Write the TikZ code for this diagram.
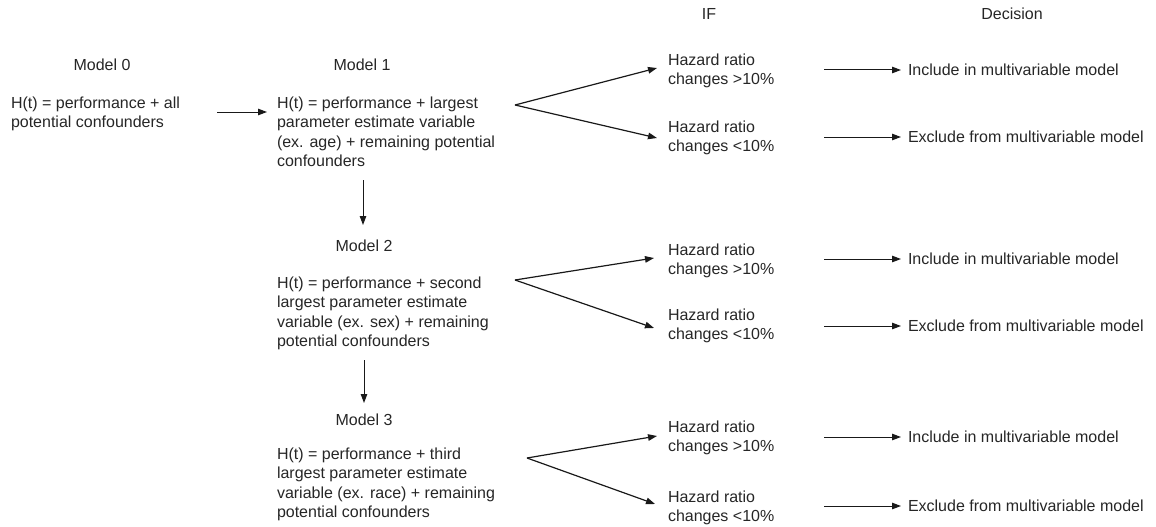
\documentclass[tikz,border=0pt]{standalone}
\usepackage{fontspec}
\setmainfont{Liberation Sans}
\usetikzlibrary{arrows.meta}
\definecolor{txtc}{HTML}{262626}
\tikzset{
  base/.style={font=\fontsize{16}{19.3}\selectfont, text=txtc, inner sep=0pt, outer sep=0pt},
  txtblock/.style={base, align=left, anchor=north west},
  lbl/.style={base, anchor=base},
  dec/.style={base, anchor=base west},
  arr/.style={-{Triangle[length=9pt,width=6.5pt]}, line width=1pt, draw=black!90},
  forkarr/.style={arr, line width=1.2pt},
}
\begin{document}
\begin{tikzpicture}[x=1pt,y=-1pt]
\useasboundingbox (0,0) rectangle (1156,527);
% headers
\node[lbl] (hif) at (709,19.7) {IF};
\node[lbl] (hdec) at (1012,19.7) {Decision};
% model labels
\node[lbl] (m0l) at (102,70.7) {Model 0};
\node[lbl] (m1l) at (362,70.7) {Model 1};
\node[lbl] (m2l) at (364,251.7) {Model 2};
\node[lbl] (m3l) at (364,425.7) {Model 3};
% model texts
\node[txtblock] (m0) at (11,97) {H(t) = performance + all\\potential confounders};
\node[txtblock] (m1) at (277,97) {H(t) = performance + largest\\parameter estimate variable\\(ex. age) + remaining potential\\confounders};
\node[txtblock] (m2) at (277,277) {H(t) = performance + second\\largest parameter estimate\\variable (ex. sex) + remaining\\potential confounders};
\node[txtblock] (m3) at (277,448) {H(t) = performance + third\\largest parameter estimate\\variable (ex. race) + remaining\\potential confounders};
% hazard texts
\node[txtblock] (h1u) at (668,54) {Hazard ratio\\changes >10\%};
\node[txtblock] (h1l) at (668,121) {Hazard ratio\\changes <10\%};
\node[txtblock] (h2u) at (668,244) {Hazard ratio\\changes >10\%};
\node[txtblock] (h2l) at (668,309) {Hazard ratio\\changes <10\%};
\node[txtblock] (h3u) at (668,421) {Hazard ratio\\changes >10\%};
\node[txtblock] (h3l) at (668,491) {Hazard ratio\\changes <10\%};
% decisions
\node[dec] (d1u) at (908,75.7) {Include in multivariable model};
\node[dec] (d1l) at (908,142.7) {Exclude from multivariable model};
\node[dec] (d2u) at (908,264.7) {Include in multivariable model};
\node[dec] (d2l) at (908,331.7) {Exclude from multivariable model};
\node[dec] (d3u) at (908,442.7) {Include in multivariable model};
\node[dec] (d3l) at (908,511.7) {Exclude from multivariable model};
% connector points
\coordinate (a0s) at (217,112); \coordinate (a0e) at (267,112);
\coordinate (v1s) at (363,180); \coordinate (v1e) at (363,225);
\coordinate (v2s) at (364,360); \coordinate (v2e) at (364,403);
\coordinate (f1) at (515,105); \coordinate (f2) at (515,280); \coordinate (f3) at (527,458);
\coordinate (t1u) at (657,68);  \coordinate (t1l) at (657,138);
\coordinate (t2u) at (654,258); \coordinate (t2l) at (654,328);
\coordinate (t3u) at (657,436); \coordinate (t3l) at (655,504);
\coordinate (s1u) at (824,70);  \coordinate (e1u) at (901,70);
\coordinate (s1l) at (824,137); \coordinate (e1l) at (901,137);
\coordinate (s2u) at (824,259); \coordinate (e2u) at (901,259);
\coordinate (s2l) at (824,326); \coordinate (e2l) at (901,326);
\coordinate (s3u) at (824,437); \coordinate (e3u) at (901,437);
\coordinate (s3l) at (824,506); \coordinate (e3l) at (901,506);
% connectors
\draw[arr] (a0s) -- (a0e);
\draw[arr] (v1s) -- (v1e);
\draw[arr] (v2s) -- (v2e);
\draw[forkarr] (f1) -- (t1u);
\draw[forkarr] (f1) -- (t1l);
\draw[forkarr] (f2) -- (t2u);
\draw[forkarr] (f2) -- (t2l);
\draw[forkarr] (f3) -- (t3u);
\draw[forkarr] (f3) -- (t3l);
\draw[arr] (s1u) -- (e1u);
\draw[arr] (s1l) -- (e1l);
\draw[arr] (s2u) -- (e2u);
\draw[arr] (s2l) -- (e2l);
\draw[arr] (s3u) -- (e3u);
\draw[arr] (s3l) -- (e3l);
\end{tikzpicture}
\end{document}
